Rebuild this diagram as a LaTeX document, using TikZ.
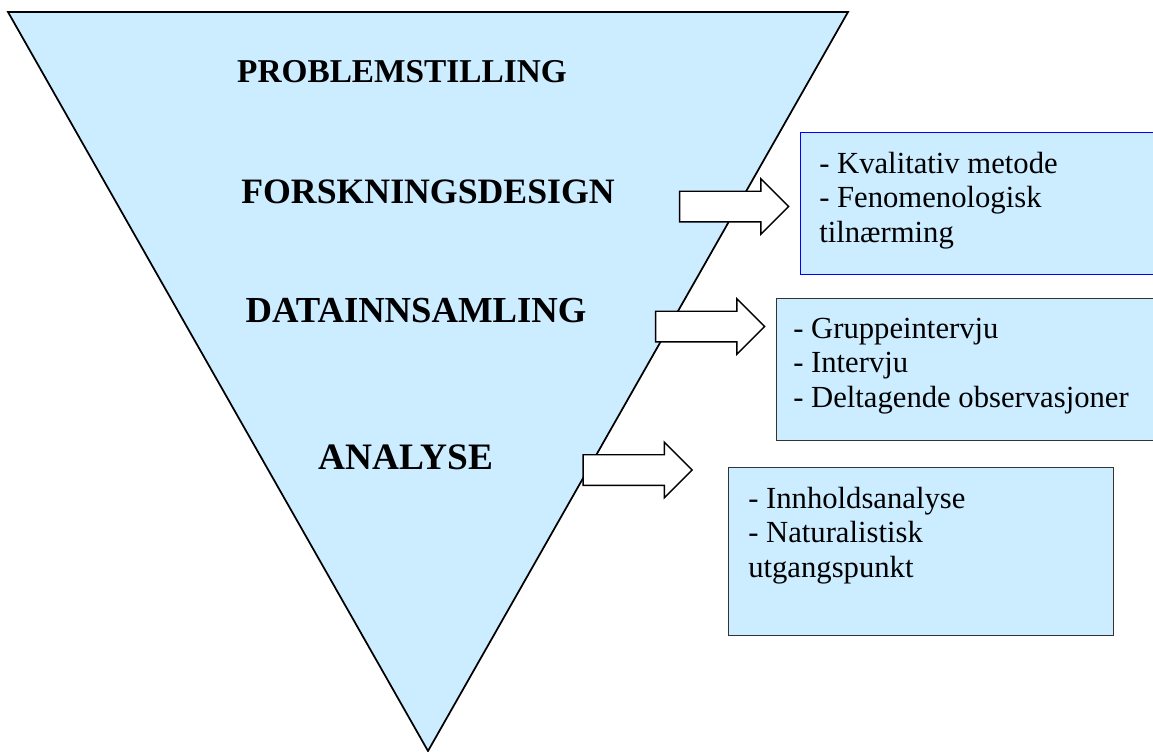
\documentclass[tikz,border=0pt]{standalone}
\usepackage{fontspec}
\setmainfont{Liberation Serif}
\usetikzlibrary{shapes.arrows}
\definecolor{funnelblue}{HTML}{CCECFF}
\begin{document}
\begin{tikzpicture}[x=0.75pt, y=-0.75pt,
	stage/.style={font=\bfseries\fontsize{#1}{30}\selectfont},
	infobox/.style={draw=black!80, line width=1.1pt, fill=funnelblue, anchor=north west, inner sep=0pt},
	infotext/.style={anchor=north west, inner sep=0pt, align=left, font=\fontsize{23}{25.8}\selectfont},
	fatarrow/.style={single arrow, draw, fill=white, line width=1.1pt, inner sep=0pt, inner ysep=10.9pt,
		minimum width=0pt, single arrow head extend=9.4pt, single arrow head indent=0pt, minimum height=81.75pt}]
	\useasboundingbox (0,0) rectangle (1153,751);
	\clip (0,0) rectangle (1153,751);
	% the funnel
	\draw[line width=1.3pt, fill=funnelblue] (8,12) -- (848,12) -- (428,751) -- cycle;
	\node[stage=25] (problem) at (402,72) {PROBLEMSTILLING};
	\node[stage=26.8] (design) at (428,192) {FORSKNINGSDESIGN};
	\node[stage=27.5] (data) at (416,311) {DATAINNSAMLING};
	\node[stage=28] (analyse) at (406,457) {ANALYSE};
	% boxes on the right
	\node[infobox, draw=blue, minimum width=270pt, minimum height=106.5pt] (designbox) at (800,132) {};
	\node[infotext] (designtext) at (819,152) {- Kvalitativ metode\\- Fenomenologisk\\tilnærming};
	\node[infobox, minimum width=288pt, minimum height=106.5pt] (databox) at (776,298) {};
	\node[infotext] (datatext) at (793,318) {- Gruppeintervju\\- Intervju\\- Deltagende observasjoner};
	\node[infobox, minimum width=288.75pt, minimum height=126pt] (analysebox) at (728,467) {};
	\node[infotext] (analysetext) at (748,487) {- Innholdsanalyse\\- Naturalistisk\\utgangspunkt};
	% block arrows
	\node[fatarrow] (designarrow) at (726.5,206.5) {};
	\node[fatarrow] (dataarrow) at (702.5,326.5) {};
	\node[fatarrow] (analysearrow) at (630,470) {};
\end{tikzpicture}
\end{document}
